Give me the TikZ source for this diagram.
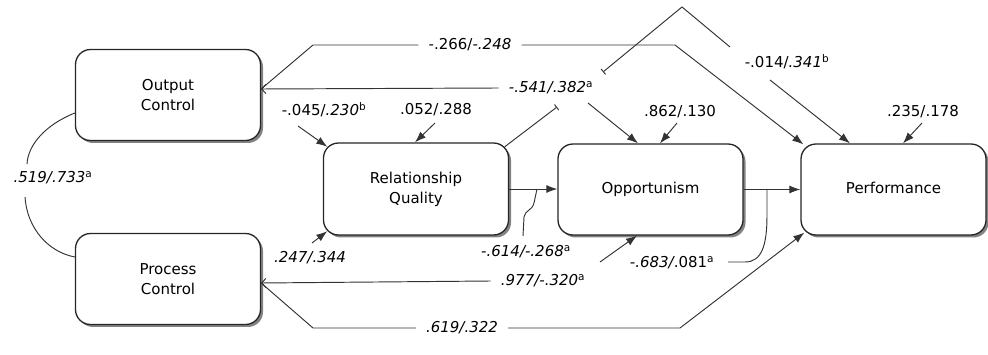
\documentclass[tikz,border=0pt]{standalone}
\usepackage{fontspec}
\setmainfont{DejaVu Sans}
\usetikzlibrary{arrows.meta,shadows}
\begin{document}
\begin{tikzpicture}[x=1pt,y=1pt,
  box/.style={draw=black!85, line width=1.3pt, rounded corners=15pt, fill=white,
    minimum width=185pt, minimum height=91pt, align=center,
    font=\fontsize{15}{20}\selectfont,
    drop shadow={shadow xshift=2.5pt, shadow yshift=-2.5pt, fill=black!75, opacity=0.65}},
  lab/.style={font=\fontsize{15}{18}\selectfont, inner xsep=10pt, inner ysep=2pt},
  conn/.style={draw=black!80, line width=0.95pt},
  arr/.style={conn, -{Latex[length=11pt,width=8pt]}},
  barb/.style={conn, -{Straight Barb[length=4pt,width=9pt]}},
  tee/.style={conn, -{Bar[width=7pt]}}]
\useasboundingbox (0,0) rectangle (988,-355);

% boxes
\node[box] (oc) at (168,-95) {Output\\Control};
\node[box] (pc) at (168,-279) {Process\\Control};
\node[box, minimum height=92pt] (rq) at (416,-189) {Relationship\\Quality};
\node[box] (op) at (650.5,-189.5) {\raisebox{4pt}{Opportunism}};
\node[box] (pf) at (893.5,-189.5) {\raisebox{4pt}{Performance}};

% labels
\node[lab] (l266) at (470,-45) {-.266/\textit{-.248}};
\node[lab] (l541) at (551,-88) {\textit{-.541/.382}\textsuperscript{a}};
\node[lab] (l014) at (787,-62) {-.014/\textit{.341}\textsuperscript{b}};
\node[lab] (l045) at (324,-110) {-.045/\textit{.230}\textsuperscript{b}};
\node[lab] (l052) at (436,-110) {.052/.288};
\node[lab] (l862) at (680,-112) {.862/.130};
\node[lab] (l235) at (923,-112) {.235/.178};
\node[lab] (l519) at (53,-178) {\textit{.519/.733}\textsuperscript{a}};
\node[lab] (l247) at (310,-258) {\textit{.247/.344}};
\node[lab] (l614) at (526,-252) {\textit{-.614/-.268}\textsuperscript{a}};
\node[lab] (l977) at (543,-281) {\textit{.977/-.320}\textsuperscript{a}};
\node[lab] (l683) at (672,-263) {\textit{-.683/}.081\textsuperscript{a}};
\node[lab] (l619) at (462,-328) {\textit{.619/.322}};

% free ends
\coordinate (b1) at (588,-103);
\coordinate (c1) at (557,-107);
\coordinate (c2) at (603,-72);
\coordinate (c4) at (730,-47);
\coordinate (c5) at (770,-80);
\coordinate (d1) at (298,-126);
\coordinate (d2) at (435,-123);
\coordinate (d3) at (677,-123);
\coordinate (d4) at (922,-123);
\coordinate (d5) at (312,-243);
\coordinate (e1) at (523,-236);
\coordinate (e2) at (537,-189);
\coordinate (f1) at (728,-262);
\coordinate (f2) at (767,-190);
\coordinate (g1) at (600,-262);
\coordinate (h1) at (27,-164);
\coordinate (h2) at (25,-197);

% -.266/-.248 : Output Control -> Performance
\draw[conn] (l266.west) -- (313,-45) -- ([yshift=6pt]oc.east);
\draw[arr] (l266.east) -- (675,-45) -- ([xshift=3pt,yshift=-1pt]pf.north west);

% -.541/.382 : Output Control -> Opportunism
\draw[barb] (l541.west) -- ([yshift=6pt]oc.east);
\draw[arr] (b1) -- ([xshift=-12.5pt]op.north);

% -.014/.341 : moderation line
\draw[tee] ([xshift=-4.4pt,yshift=-4.4pt]rq.north east) -- (c1);
\draw[conn, {Bar[width=7pt]}-] (c2) -- (682,-7) -- (c4);
\draw[arr] (c5) -- ([xshift=-43.5pt]pf.north);

% short arrows
\draw[arr] (d1) -- ([xshift=4.4pt,yshift=-4.4pt]rq.north west);
\draw[arr] (d2) -- ([xshift=-1pt]rq.north);
\draw[arr] (d3) -- ([xshift=9.5pt]op.north);
\draw[arr] (d4) -- ([xshift=9.5pt]pf.north);
\draw[arr] (d5) -- ([xshift=4.4pt,yshift=4.4pt]rq.south west);

% main chain
\draw[arr] (rq.east) -- (rq.east -| op.west);
\draw[arr] (op.east) -- (op.east -| pf.west);

% -.614/-.268 moderation
\draw[conn] (e1) -- (524,-217) .. controls (525,-210) and (532,-211) .. (534,-203) -- (e2);

% -.683/.081 moderation
\draw[conn] (f1) -- (745,-262) .. controls (762,-262) and (767,-245) .. (767,-215) -- (f2);

% .977/-.320 : Process Control -> Opportunism
\draw[barb] (l977.west) -- ([yshift=-4pt]pc.east);
\draw[arr] (g1) -- ([xshift=-13.5pt]op.south);

% .619/.322 : Process Control -> Performance
\draw[conn] (l619.west) -- (313,-328) -- ([yshift=-4pt]pc.east);
\draw[arr] (l619.east) -- (680,-328) -- ([xshift=4pt,yshift=3pt]pf.south west);

% .519/.733 correlation
\draw[conn] ([yshift=-18pt]oc.west) .. controls (45,-125) and (28,-145) .. (h1);
\draw[conn] (h2) .. controls (27,-228) and (48,-252) .. ([yshift=22pt]pc.west);
\end{tikzpicture}
\end{document}
